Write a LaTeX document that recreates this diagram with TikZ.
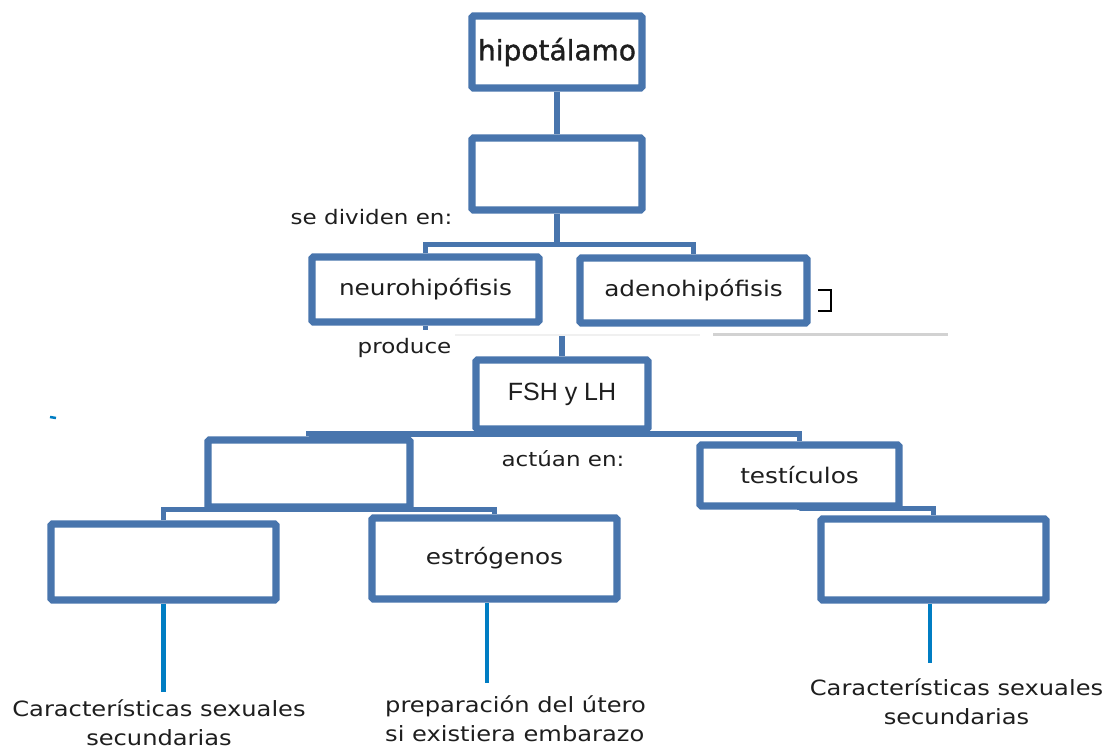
\documentclass[tikz,border=0pt]{standalone}
\usepackage{fontspec}
\newfontfamily\comic[FakeStretch=1.15]{DejaVu Sans}
\newfontfamily\plainfont[FakeBold=1.2]{DejaVu Sans}
\newfontfamily\libfont{Liberation Sans}
\usetikzlibrary{shadows,backgrounds}
\definecolor{boxblue}{RGB}{72,117,173}
\definecolor{lineblue}{RGB}{0,125,195}
\definecolor{ink}{RGB}{30,30,30}
\begin{document}
\begin{tikzpicture}[x=1pt,y=-1pt,
  box/.style={draw=boxblue, line width=7.2pt, fill=white, rounded corners=1.5pt, inner sep=0pt, text=ink,
    drop shadow={opacity=0.25, shadow xshift=1.5pt, shadow yshift=-2.5pt}},
  conn/.style={draw=boxblue, line width=5.5pt},
  lead/.style={draw=lineblue, line width=4.5pt},
  lbl/.style={text=ink, inner sep=0pt, font=\comic\fontsize{20}{24}\selectfont},
  boxfont/.style={font=\comic\fontsize{21.5}{26}\selectfont},
  foot/.style={text=ink, inner sep=0pt, font=\comic\fontsize{21}{28.5}\selectfont}]
\useasboundingbox (0,0) rectangle (1114,751);

% boxes
\node[box, minimum width=170pt, minimum height=72pt, font=\plainfont\fontsize{28}{32}\selectfont] (hip) at (557,52) {hipotálamo};
\node[box, minimum width=170pt, minimum height=72pt] (sub) at (557,174) {};
\node[box, boxfont, minimum width=227pt, minimum height=65pt] (neuro) at (425.5,289.5) {neurohipófisis};
\node[box, boxfont, minimum width=227pt, minimum height=65pt] (adeno) at (693.5,290.5) {adenohipófisis};
\node[box, minimum width=172pt, minimum height=69pt, font=\libfont\fontsize{25}{30}\selectfont] (fsh) at (562,394.5) {FSH y LH};
\node[box, minimum width=202pt, minimum height=67pt] (midL) at (309,473.5) {};
\node[box, boxfont, minimum width=199pt, minimum height=61pt] (test) at (799.5,475.5) {testículos};
\node[box, minimum width=225pt, minimum height=76pt] (botL) at (163.5,562) {};
\node[box, boxfont, minimum width=245pt, minimum height=81pt] (estr) at (494.5,558.5) {estrógenos};
\node[box, minimum width=225pt, minimum height=81pt] (botR) at (933.5,559.5) {};

% labels
\node[lbl, anchor=base] (sedividen) at (371.5,225) {se dividen en:};
\node[lbl, anchor=base] (produce) at (404.5,353) {produce};
\node[lbl, anchor=base] (actuan) at (563,466) {actúan en:};

\node[foot, align=center, anchor=north] (carL) at (159,700) {Características sexuales\\secundarias};
\node[foot, align=left, anchor=north west] (prep) at (385,696) {preparación del útero\\si existiera embarazo};
\node[foot, align=center, anchor=north] (carR) at (956.5,679) {Características sexuales\\secundarias};

% connectors
\begin{scope}[on background layer]
\draw[conn] (hip.south) -- (sub.north);
\coordinate (j1) at (557,244.5);
\draw[conn] (sub.south) -- (j1);
\draw[conn] (neuro.north) |- (j1) -| (adeno.north);
\coordinate (nstub) at (425.5,330);
\draw[conn] (neuro.south) -- (nstub);
\coordinate (ftop) at (562,335);
\draw[conn] (ftop) -- (fsh.north);
\coordinate (j2) at (562,434);
\draw[conn] (fsh.south) -- (j2);
\draw[conn] (midL.north) |- (j2) -| (test.north);
\coordinate (j3) at (309,509.5);
\draw[conn] (midL.south) -- (j3);
\draw[conn] (botL.north) |- (j3) -| (estr.north);
\coordinate (j4) at (799.5,508.5);
\draw[conn] (test.south) -- (j4) -| (botR.north);
\coordinate (eL) at (163.5,692);
\draw[lead] (botL.south) -- (eL);
\coordinate (eM) at (487,683);
\draw[lead] (eM |- estr.south) -- (eM);
\coordinate (eR) at (930,663);
\draw[lead] (eR |- botR.south) -- (eR);
\end{scope}

% stray marks
\draw[gray!12, line width=2pt] (455,335) -- (700,335);
\draw[gray!35, line width=3pt] (713,335) -- (948,335);
\draw[lineblue, line width=2.5pt] (50,417) -- (56,418);
\draw[black, line width=1.4pt] (818,290) -- (831,290) -- (831,311) -- (818,311);
\end{tikzpicture}
\end{document}
